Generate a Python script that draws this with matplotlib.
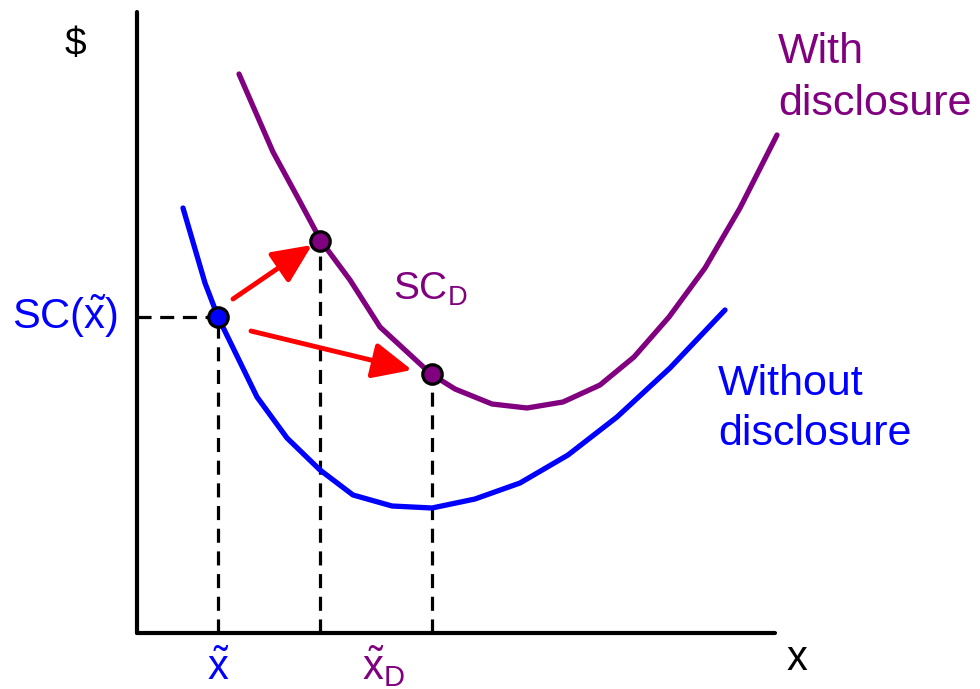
import matplotlib
matplotlib.use("Agg")
import matplotlib.pyplot as plt
from matplotlib.patches import FancyArrowPatch

plt.rcParams['font.family'] = ['Liberation Sans', 'DejaVu Sans']
plt.rcParams['mathtext.fontset'] = 'custom'
plt.rcParams['mathtext.rm'] = 'Liberation Sans'
plt.rcParams['mathtext.it'] = 'Liberation Sans'
plt.rcParams['mathtext.bf'] = 'Liberation Sans:bold'

# ---- data (arbitrary units) ----
without_x = [46, 68, 81, 120, 150, 183, 216, 255, 295, 338, 383, 431, 480, 533, 588]
without_y = [425, 350, 316, 236, 195, 163, 138, 127, 125, 134, 150, 178, 216, 265, 323]

with_x = [102, 119, 136, 161, 184, 213, 243, 294, 318, 355, 390, 426, 463, 497, 532, 568, 603, 640]
with_y = [559, 520, 481, 435, 392, 353, 306, 259, 244, 229, 225, 231, 248, 276, 316, 365, 425, 498]

x_tilde = 81
sc_tilde = 316
x_mid = 183
sc_mid = 392
x_tilde_d = 295
sc_d = 259

arrow1 = ((96, 334), (175, 388))
arrow2 = ((114, 302), (275, 263))

BLUE = '#0000FF'
PURPLE = '#800080'
RED = '#FF0000'

fig = plt.figure(figsize=(9.8, 6.89), dpi=100)
W, H = 980, 689
ax = fig.add_axes([137 / W, (H - 633) / H, (775 - 137) / W, (633 - 12) / H])
ax.set_xlim(0, 638)
ax.set_ylim(0, 621)
for s in ['top', 'right']:
    ax.spines[s].set_visible(False)
for s in ['left', 'bottom']:
    ax.spines[s].set_linewidth(3)
    ax.spines[s].set_capstyle('round')
ax.set_xticks([])
ax.set_yticks([])
ax.patch.set_alpha(0)

dash = (0, (4.4, 2.7))
lw_d = 2.3
# dashed guides
ax.plot([0, x_tilde], [sc_tilde, sc_tilde], color='black', lw=lw_d, ls=dash, clip_on=False)
ax.plot([x_tilde, x_tilde], [0, sc_tilde], color='black', lw=lw_d, ls=dash, clip_on=False)
ax.plot([x_mid, x_mid], [0, sc_mid], color='black', lw=lw_d, ls=dash, clip_on=False)
ax.plot([x_tilde_d, x_tilde_d], [0, sc_d], color='black', lw=lw_d, ls=dash, clip_on=False)

# curves
ax.plot(without_x, without_y, color=BLUE, lw=3.8, solid_capstyle='round',
        solid_joinstyle='round', clip_on=False, zorder=3)
ax.plot(with_x, with_y, color=PURPLE, lw=3.8, solid_capstyle='round',
        solid_joinstyle='round', clip_on=False, zorder=3)

# arrows
for (p0, p1) in (arrow1, arrow2):
    ar = FancyArrowPatch(p0, p1, arrowstyle='-|>,head_length=1.2,head_width=0.55',
                         mutation_scale=20, color=RED, lw=3.5, capstyle='round',
                         shrinkA=0, shrinkB=0, zorder=4, clip_on=False)
    ax.add_patch(ar)

# markers
ax.plot([x_tilde], [sc_tilde], 'o', ms=14, mfc=BLUE, mec='black', mew=2.3, zorder=5, clip_on=False)
ax.plot([x_mid, x_tilde_d], [sc_mid, sc_d], 'o', ms=14, mfc=PURPLE, mec='black', mew=2.3,
        zorder=5, clip_on=False)

# texts
ax.text(-62, 588, '$', fontsize=28, ha='center', va='center', color='black')
ax.text(660, -37, 'x', fontsize=30, ha='center', va='baseline', color='black')
ax.text(-125, 304, r'SC($\mathrm{\tilde{x}}$)', fontsize=30, ha='left', va='baseline', color=BLUE)
ax.text(x_tilde, -47, r'$\mathrm{\tilde{x}}$', fontsize=30, ha='center', va='baseline', color=BLUE)
ax.text(225, -47, r'$\mathrm{\tilde{x}_D}$', fontsize=30, ha='left', va='baseline', color=PURPLE)
ax.text(256, 333, r'SC$_\mathrm{D}$', fontsize=28, ha='left', va='baseline', color=PURPLE)
ax.text(641, 570, 'With', fontsize=31, ha='left', va='baseline', color=PURPLE)
ax.text(641, 518, 'disclosure', fontsize=31, ha='left', va='baseline', color=PURPLE)
ax.text(581, 238, 'Without', fontsize=31, ha='left', va='baseline', color=BLUE)
ax.text(581, 188, 'disclosure', fontsize=31, ha='left', va='baseline', color=BLUE)

fig.savefig('out.png', dpi=100)
